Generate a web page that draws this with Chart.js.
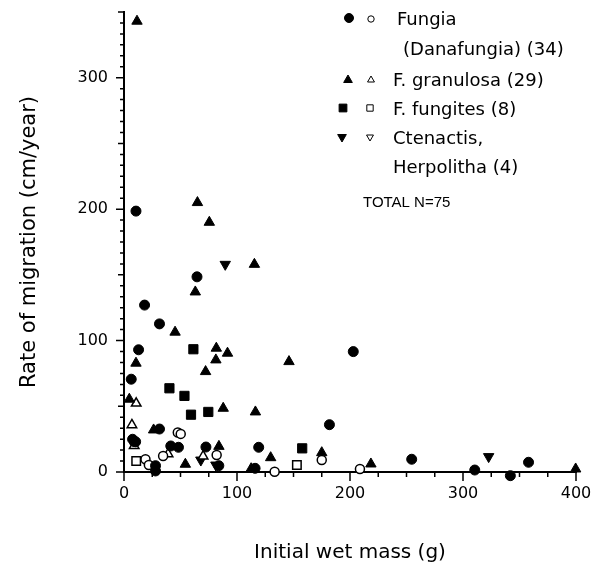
<!DOCTYPE html>
<html>
<head>
<meta charset="utf-8">
<script src="https://cdn.jsdelivr.net/npm/chart.js@4.4.1/dist/chart.umd.min.js"></script>
<style>
  html, body { margin: 0; padding: 0; background: #fff; }
</style>
</head>
<body>
<canvas id="migrationChart" width="594" height="566"></canvas>
<script>
// [initial wet mass (g), rate of migration (cm/year)]
const fungiaSolid = [
  [10.6, 198.5], [18.2, 127], [31.4, 112.7], [64.6, 148.5], [12.9, 93], [6.4, 70.6],
  [31.4, 32.7], [7.6, 24.9], [10.3, 23], [41.4, 19.8], [48.2, 18.8], [72.5, 19],
  [119.2, 18.8], [27.9, 4.8], [27.9, 0.8], [83.9, 4.8], [116, 2.8], [202.9, 91.6],
  [181.8, 36], [254.6, 9.7], [310.4, 1.5], [341.9, -2.8], [358, 7.4]
];
const fungiaOpen = [
  [47.6, 30], [50.2, 29], [19, 9.7], [22, 5.3], [34.6, 12.2], [82, 13],
  [133.3, 0.2], [175, 9.1], [208.8, 2.3], [9, 23]
];
const granulosaSolid = [
  [11.5, 343], [65, 205], [75.5, 190], [115.4, 158], [63.1, 137], [45.2, 106.4],
  [81.7, 94.2], [91.6, 90.4], [146, 84], [10.6, 82.8], [81.3, 85.3], [72.2, 76.4],
  [4.7, 55.4], [87.8, 48.5], [116.3, 45.7], [26.2, 32], [84, 19.5], [54.3, 5.9],
  [129.8, 10.9], [112.5, 2.5], [175, 14.7], [218.5, 6.1], [399.7, 2.3]
];
const granulosaOpen = [[10.8, 52.3], [7, 35.8], [39, 13.7], [9, 20], [70, 12]];
const fungitesSolid = [[61.4, 93.4], [40.2, 63.7], [53.5, 57.9], [59.3, 43.6], [74.6, 45.7], [157.7, 18]];
const fungitesOpen = [[10.8, 8.4], [153, 5.3]];
const ctenactisSolid = [[89.6, 158], [68, 9.1], [81.3, 5.3], [322.7, 11.7]];
const ctenactisOpen = [];

const xLabels = [0, 100, 200, 300, 400];
const yLabels = [0, 100, 200, 300];
const xMinorStep = 25;
const yMinorStep = 100 / 12;

const FONT = "'DejaVu Sans', sans-serif";

function toPoints(list) {
  return list.map((p) => ({ x: p[0], y: p[1] }));
}

function series(label, list, style, filled, radius, rotation) {
  return {
    label: label,
    data: toPoints(list),
    pointStyle: style,
    pointRadius: radius,
    pointHoverRadius: radius,
    pointRotation: rotation || 0,
    backgroundColor: filled ? "#000" : "#fff",
    borderColor: "#000",
    borderWidth: filled ? 1 : 1.5,
    clip: false,
  };
}

// axis tick marks, long ones at the labelled values
const tickMarks = {
  id: "tickMarks",
  beforeDatasetsDraw(chart) {
    const { ctx, scales } = chart;
    const x = scales.x, y = scales.y;
    ctx.save();
    ctx.strokeStyle = "#000";
    ctx.lineWidth = 1.5;
    ctx.beginPath();
    for (let v = 0; v <= 400; v += xMinorStep) {
      const px = x.getPixelForValue(v);
      const len = v % 100 === 0 ? 9 : 5;
      ctx.moveTo(px, y.bottom);
      ctx.lineTo(px, y.bottom + len);
    }
    for (let k = 0; k <= 42; k++) {
      const py = y.getPixelForValue(k * yMinorStep);
      const len = k % 12 === 0 ? 8 : k % 6 === 0 ? 6 : 4;
      ctx.moveTo(x.left, py);
      ctx.lineTo(x.left - len, py);
    }
    ctx.stroke();
    ctx.restore();
  },
};

// key in the upper right corner
const speciesKey = {
  id: "speciesKey",
  afterDraw(chart) {
    const ctx = chart.ctx;
    const mark = (style, r, rot, filled, px, py) => {
      ctx.fillStyle = filled ? "#000" : "#fff";
      ctx.strokeStyle = "#000";
      Chart.helpers.drawPoint(ctx, { pointStyle: style, radius: r, rotation: rot, borderWidth: 1.2 }, px, py);
    };
    ctx.save();
    mark("circle", 4.5, 0, true, 349, 18);
    mark("circle", 3.2, 0, false, 371, 19);
    mark("triangle", 5, 0, true, 348, 80);
    mark("triangle", 4, 0, false, 371, 80);
    mark("rect", 5.5, 0, true, 343, 108);
    mark("rect", 4.5, 0, false, 370, 108);
    mark("triangle", 5, 180, true, 342, 137);
    mark("triangle", 4, 180, false, 370, 137);

    ctx.fillStyle = "#000";
    ctx.textBaseline = "middle";
    ctx.textAlign = "left";
    ctx.font = "18px " + FONT;
    ctx.fillText("Fungia", 397, 20);
    ctx.fillText("(Danafungia) (34)", 403, 50);
    ctx.fillText("F. granulosa (29)", 393, 81);
    ctx.fillText("F. fungites (8)", 393, 110);
    ctx.fillText("Ctenactis,", 393, 139);
    ctx.fillText("Herpolitha (4)", 393, 168);
    ctx.font = "15px 'Liberation Sans', sans-serif";
    ctx.fillText("TOTAL N=75", 363, 203);
    ctx.restore();
  },
};

new Chart(document.getElementById("migrationChart"), {
  type: "scatter",
  data: {
    datasets: [
      series("Fungia (Danafungia)", fungiaSolid, "circle", true, 5),
      series("Fungia (Danafungia) open", fungiaOpen, "circle", false, 4.5),
      series("F. granulosa", granulosaSolid, "triangle", true, 6),
      series("F. granulosa open", granulosaOpen, "triangle", false, 5.5),
      series("F. fungites", fungitesSolid, "rect", true, 6.5),
      series("F. fungites open", fungitesOpen, "rect", false, 6),
      series("Ctenactis, Herpolitha", ctenactisSolid, "triangle", true, 6, 180),
      series("Ctenactis, Herpolitha open", ctenactisOpen, "triangle", false, 5.5, 180),
    ],
  },
  options: {
    responsive: false,
    devicePixelRatio: 1,
    animation: false,
    layout: { padding: { left: 0, right: 18, top: 12, bottom: 0 } },
    plugins: { legend: { display: false }, tooltip: { enabled: false } },
    scales: {
      x: {
        type: "linear",
        min: 0,
        max: 400,
        afterFit: (s) => { s.height = 94; s.paddingLeft = 0; s.paddingRight = 0; },
        afterBuildTicks: (s) => { s.ticks = xLabels.map((v) => ({ value: v })); },
        grid: { display: false, drawTicks: false },
        border: { display: true, color: "#000", width: 2 },
        ticks: { color: "#000", padding: 12, maxRotation: 0, font: { family: FONT, size: 16 } },
        title: { display: true, text: "Initial wet mass (g)", color: "#000", font: { family: FONT, size: 20 }, padding: { top: 0, bottom: 1 } },
      },
      y: {
        type: "linear",
        min: 0,
        max: 350,
        afterFit: (s) => { s.width = 124; s.paddingTop = 0; s.paddingBottom = 0; },
        afterBuildTicks: (s) => { s.ticks = yLabels.map((v) => ({ value: v })); },
        grid: { display: false, drawTicks: false },
        border: { display: true, color: "#000", width: 2 },
        ticks: { color: "#000", padding: 16, font: { family: FONT, size: 16 } },
        title: { display: true, text: "Rate of migration (cm/year)", color: "#000", font: { family: FONT, size: 21 }, padding: { top: 17, bottom: 0 } },
      },
    },
  },
  plugins: [tickMarks, speciesKey],
});
</script>
</body>
</html>
